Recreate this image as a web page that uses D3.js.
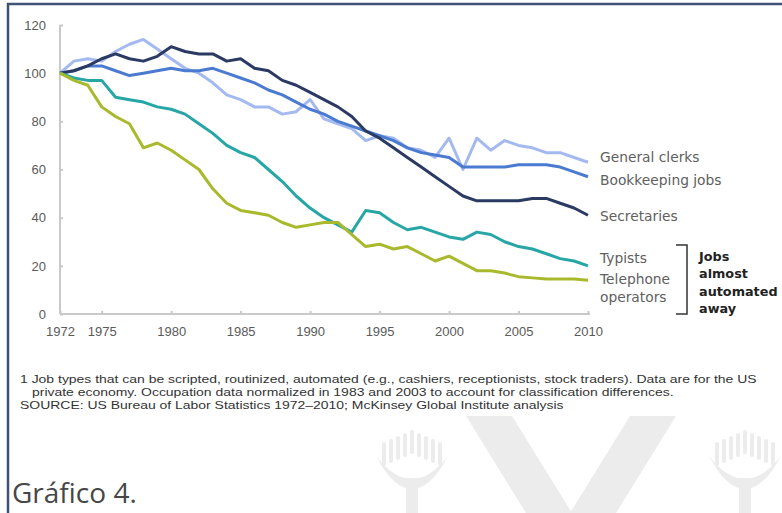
<!DOCTYPE html>
<head>
  <meta charset="utf-8">
  <script src="https://d3js.org/d3.v7.min.js"></script>
  <style>
    body { margin:0; background:#fff; }
    svg { display:block; }
    .axis path, .axis line { stroke:#c9c9c9; stroke-width:2; }
    .axis text { font-family:"Liberation Sans", Arial, sans-serif; font-size:13px; fill:#5a5a5a; }
    .lbl { font-family:"DejaVu Sans", sans-serif; font-size:13.8px; fill:#606060; }
    .bold { font-family:"DejaVu Sans", sans-serif; font-size:12.8px; font-weight:bold; fill:#222; }
    .note { font-family:"Liberation Sans", Arial, sans-serif; font-size:10.5px; fill:#333; }
  </style>
</head>
<body>
  <svg width="782" height="513"></svg>
  <script>
    var years = d3.range(1972, 2011);

    var generalClerks = [100,105,106,105,109,112,114,110,106,102,100,96,91,89,86,86,83,84,89,81,79,77,72,74,73,69,68,65,73,60,73,68,72,70,69,67,67,65,63];
    var bookkeeping   = [100,101,103,103,101,99,100,101,102,101,101,102,100,98,96,93,91,88,85,83,80,78,76,74,72,69,67,66,65,61,61,61,61,62,62,62,61,59,57];
    var secretaries   = [100,101,103,106,108,106,105,107,111,109,108,108,105,106,102,101,97,95,92,89,86,82,76,73,69,65,61,57,53,49,47,47,47,47,48,48,46,44,41];
    var typists       = [100,98,97,97,90,89,88,86,85,83,79,75,70,67,65,60,55,49,44,40,37,34,43,42,38,35,36,34,32,31,34,33,30,28,27,25,23,22,20];
    var telephone     = [100,97,95,86,82,79,69,71,68,64,60,52,46,43,42,41,38,36,37,38,38,33,28,29,27,28,25,22,24,21,18,18,17,15.5,15,14.5,14.5,14.5,14];

    var yTicks = [0,20,40,60,80,100,120];
    var xTicks = [1972,1975,1980,1985,1990,1995,2000,2005,2010];

    var series = [
      {name:"General clerks", values:generalClerks, color:"#a3b9ef"},
      {name:"Bookkeeping jobs", values:bookkeeping, color:"#4a7bd0"},
      {name:"Secretaries", values:secretaries, color:"#2b3a63"},
      {name:"Typists", values:typists, color:"#27a6a6"},
      {name:"Telephone operators", values:telephone, color:"#a9b92c"}
    ];

    var svg = d3.select("svg");

    // faint watermark in the lower right
    var wm = svg.append("g").attr("fill", "#ececec");
    wm.append("path").attr("d", "M466,416 L512,416 L572,513 L526,513 Z");
    wm.append("path").attr("d", "M676,416 L630,416 L570,513 L616,513 Z");
    function thistle(cx) {
      var g = wm.append("g");
      d3.range(-4, 5).forEach(function(k) {
        g.append("rect").attr("x", cx + k*7 - 2).attr("y", 430 + Math.abs(k)*3)
          .attr("width", 4).attr("height", 24).attr("rx", 2);
      });
      g.append("path").attr("d", "M" + (cx-36) + ",456 Q" + cx + ",502 " + (cx+36) + ",456 L" + (cx+27) + ",471 Q" + cx + ",507 " + (cx-27) + ",471 Z");
      g.append("rect").attr("x", cx-6).attr("y", 478).attr("width", 12).attr("height", 35);
    }
    thistle(412);
    thistle(745);

    // frame
    svg.append("line").attr("x1", 8).attr("x2", 8).attr("y1", 3).attr("y2", 513)
      .attr("stroke", "#3e5275").attr("stroke-width", 2.5);
    svg.append("line").attr("x1", 7).attr("x2", 782).attr("y1", 4).attr("y2", 4)
      .attr("stroke", "#3e5275").attr("stroke-width", 2.5);

    var x = d3.scaleLinear().domain([1972, 2010]).range([60, 588]);
    var y = d3.scaleLinear().domain([0, 120]).range([314, 25]);

    svg.append("g").attr("class", "axis")
      .attr("transform", "translate(60,0)")
      .call(d3.axisLeft(y).tickValues(yTicks).tickSize(-3).tickPadding(14))
      .call(function(g) { g.select(".domain").attr("d", "M0,25V314"); });

    svg.append("g").attr("class", "axis")
      .attr("transform", "translate(0,314)")
      .call(d3.axisBottom(x).tickValues(xTicks).tickFormat(d3.format("d")).tickSize(-3).tickPadding(13))
      .call(function(g) { g.select(".domain").attr("d", "M60,0H590"); });

    var line = d3.line()
      .x(function(d, i) { return x(years[i]); })
      .y(function(d) { return y(d); });

    svg.append("g").selectAll("path")
      .data(series)
      .enter().append("path")
      .attr("d", function(s) { return line(s.values); })
      .attr("fill", "none")
      .attr("stroke", function(s) { return s.color; })
      .attr("stroke-width", 3)
      .attr("stroke-linejoin", "round");

    // labels at the right
    var labels = [
      {t:"General clerks", v:65},
      {t:"Bookkeeping jobs", v:55.5},
      {t:"Secretaries", v:40.5},
      {t:"Typists", v:23},
      {t:"Telephone", v:14.5},
      {t:"operators", v:7}
    ];
    svg.selectAll(".lbl").data(labels).enter().append("text")
      .attr("class", "lbl")
      .attr("x", 600)
      .attr("y", function(d) { return y(d.v); })
      .attr("dy", "0.35em")
      .text(function(d) { return d.t; });

    svg.append("path")
      .attr("d", "M676,245H687V314H676")
      .attr("fill", "none").attr("stroke", "#333").attr("stroke-width", 1.5);

    var bracketText = ["Jobs", "almost", "automated", "away"];
    svg.selectAll(".bold").data(bracketText).enter().append("text")
      .attr("class", "bold")
      .attr("x", 699)
      .attr("y", function(d, i) { return 261 + i*17.3; })
      .text(function(d) { return d; });

    // footnotes: same font for all lines, stretched so line one ends near x=757
    var notes = [
      {t:"1  Job types that can be scripted, routinized, automated (e.g., cashiers, receptionists, stock traders). Data are for the US", dx:0, y:383},
      {t:"private economy. Occupation data normalized in 1983 and 2003 to account for classification differences.", dx:12, y:396},
      {t:"SOURCE: US Bureau of Labor Statistics 1972\u20132010; McKinsey Global Institute analysis", dx:0, y:409}
    ];
    var ng = svg.append("g");
    var nt = ng.selectAll(".note").data(notes).enter().append("text")
      .attr("class", "note")
      .attr("y", function(d) { return d.y; })
      .text(function(d) { return d.t; });
    var sx = 737 / nt.node().getComputedTextLength();
    nt.attr("x", function(d) { return d.dx / sx; });
    ng.attr("transform", "translate(20,0) scale(" + sx + ",1)");

    svg.append("text")
      .attr("x", 12).attr("y", 503)
      .attr("font-family", "'Open Sans', sans-serif")
      .attr("font-size", 28)
      .attr("fill", "#474747")
      .text("Gráfico 4.");
  </script>
</body>
